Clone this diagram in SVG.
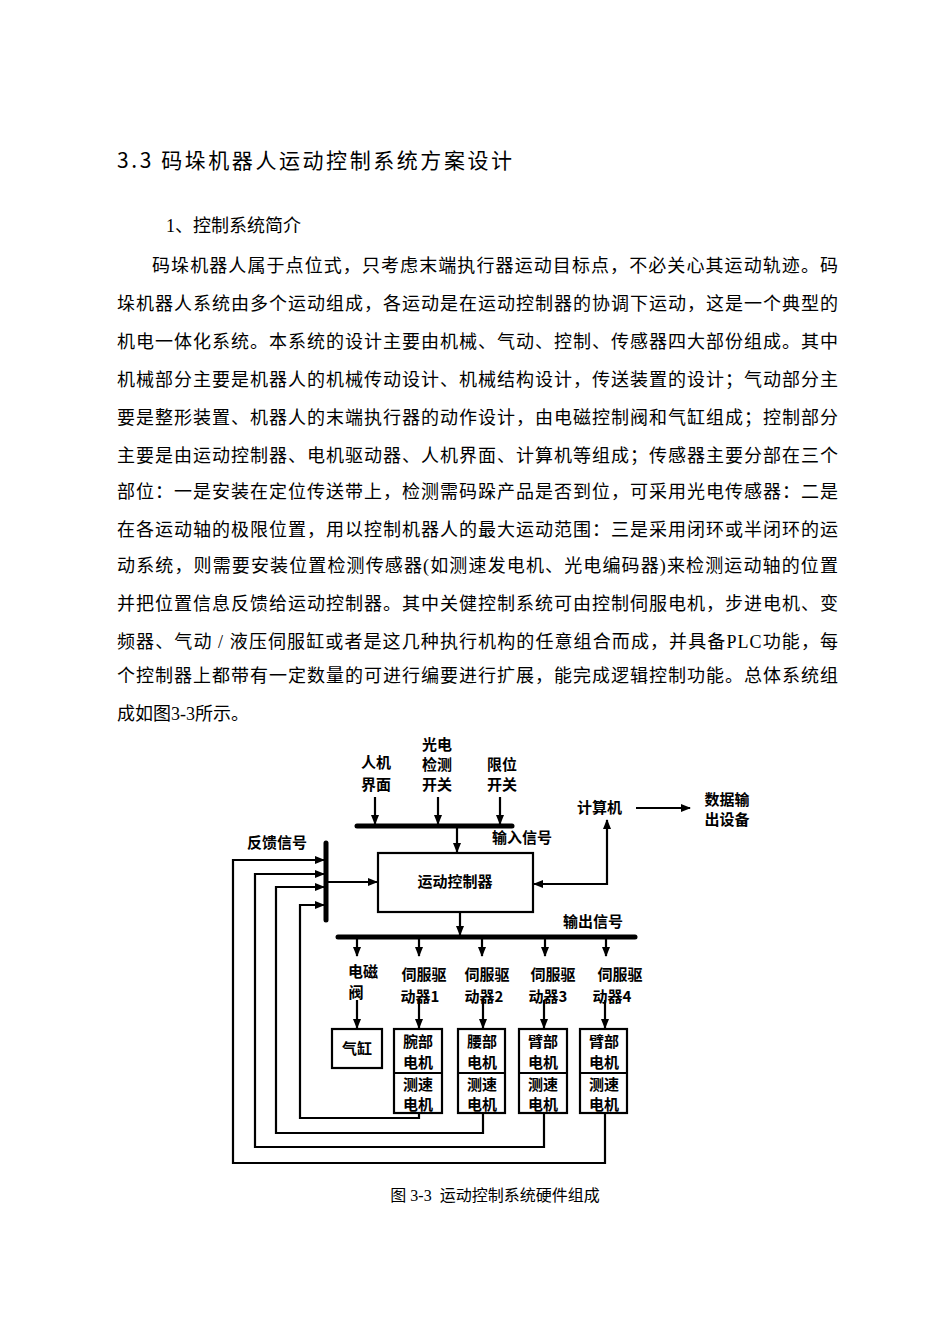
<svg xmlns="http://www.w3.org/2000/svg" width="950" height="1344" viewBox="0 0 950 1344">
<defs>
<marker id="a" viewBox="0 0 10 10" refX="9" refY="5" markerWidth="10" markerHeight="10" orient="auto" markerUnits="userSpaceOnUse"><path d="M0,1 L10,5 L0,9 z" fill="#000"/></marker>
</defs>
<style>
.b{font-family:"Liberation Serif","Noto Sans CJK SC",serif;font-size:18px;fill:#000}
.d{font-family:"Noto Sans CJK SC",sans-serif;font-size:15px;font-weight:bold;fill:#000}
.l{stroke:#000;stroke-width:2.2;fill:none}
.bus{stroke:#000;stroke-width:5;fill:none;stroke-linecap:round}
.box{fill:#fff;stroke:#000;stroke-width:2.2}
</style>
<rect width="950" height="1344" fill="#fff"/>
<text x="117" y="168" textLength="395" style="font-family:'Noto Sans CJK SC',sans-serif;font-size:21px">3.3 码垛机器人运动控制系统方案设计</text>
<g class="b">
<text x="166" y="232">1、控制系统简介</text>
<text x="152" y="272" textLength="686" lengthAdjust="spacing">码垛机器人属于点位式，只考虑末端执行器运动目标点，不必关心其运动轨迹。码</text>
<text x="117" y="310" textLength="721" lengthAdjust="spacing">垛机器人系统由多个运动组成，各运动是在运动控制器的协调下运动，这是一个典型的</text>
<text x="117" y="348" textLength="721" lengthAdjust="spacing">机电一体化系统。本系统的设计主要由机械、气动、控制、传感器四大部份组成。其中</text>
<text x="117" y="386" textLength="721" lengthAdjust="spacing">机械部分主要是机器人的机械传动设计、机械结构设计，传送装置的设计；气动部分主</text>
<text x="117" y="424" textLength="721" lengthAdjust="spacing">要是整形装置、机器人的末端执行器的动作设计，由电磁控制阀和气缸组成；控制部分</text>
<text x="117" y="462" textLength="721" lengthAdjust="spacing">主要是由运动控制器、电机驱动器、人机界面、计算机等组成；传感器主要分部在三个</text>
<text x="117" y="498" textLength="721" lengthAdjust="spacing">部位：一是安装在定位传送带上，检测需码跺产品是否到位，可采用光电传感器：二是</text>
<text x="117" y="536" textLength="721" lengthAdjust="spacing">在各运动轴的极限位置，用以控制机器人的最大运动范围：三是采用闭环或半闭环的运</text>
<text x="117" y="572" textLength="721" lengthAdjust="spacing">动系统，则需要安装位置检测传感器(如测速发电机、光电编码器)来检测运动轴的位置</text>
<text x="117" y="610" textLength="721" lengthAdjust="spacing">并把位置信息反馈给运动控制器。其中关健控制系统可由控制伺服电机，步进电机、变</text>
<text x="117" y="648" textLength="721" lengthAdjust="spacing">频器、气动 / 液压伺服缸或者是这几种执行机构的任意组合而成，并具备PLC功能，每</text>
<text x="117" y="682" textLength="721" lengthAdjust="spacing">个控制器上都带有一定数量的可进行编要进行扩展，能完成逻辑控制功能。总体系统组</text>
<text x="117" y="720">成如图3-3所示。</text>
<text x="495" y="1201" text-anchor="middle" style="font-size:16px" xml:space="preserve">图 3-3  运动控制系统硬件组成</text>
</g>
<g id="connectors">
<line class="bus" x1="357" y1="826" x2="512" y2="826"/>
<line class="l" x1="375" y1="797" x2="375" y2="824" marker-end="url(#a)"/>
<line class="l" x1="438" y1="797" x2="438" y2="824" marker-end="url(#a)"/>
<line class="l" x1="500" y1="797" x2="500" y2="824" marker-end="url(#a)"/>
<line class="l" x1="457" y1="826" x2="457" y2="852" marker-end="url(#a)"/>
<line class="bus" x1="326" y1="843" x2="326" y2="920"/>
<line class="l" x1="326" y1="882" x2="377" y2="882" marker-end="url(#a)"/>
<polyline class="l" points="419,1113 419,1118 300,1118 300,905 324,905" marker-end="url(#a)"/>
<polyline class="l" points="483,1113 483,1133 276,1133 276,887 324,887" marker-end="url(#a)"/>
<polyline class="l" points="544,1113 544,1147 255,1147 255,874 324,874" marker-end="url(#a)"/>
<polyline class="l" points="605,1113 605,1163 233,1163 233,860 324,860" marker-end="url(#a)"/>
<line class="l" x1="607" y1="885" x2="607" y2="820" marker-end="url(#a)"/>
<line class="l" x1="607" y1="884" x2="534" y2="884" marker-end="url(#a)"/>
<line class="l" x1="636" y1="808" x2="690" y2="808" marker-end="url(#a)"/>
<line class="l" x1="460" y1="912" x2="460" y2="935" marker-end="url(#a)"/>
<line class="bus" x1="338" y1="937" x2="635" y2="937"/>
<line class="l" x1="357" y1="937" x2="357" y2="956" marker-end="url(#a)"/>
<line class="l" x1="419" y1="937" x2="419" y2="956" marker-end="url(#a)"/>
<line class="l" x1="482" y1="937" x2="482" y2="956" marker-end="url(#a)"/>
<line class="l" x1="545" y1="937" x2="545" y2="956" marker-end="url(#a)"/>
<line class="l" x1="606" y1="937" x2="606" y2="956" marker-end="url(#a)"/>
<line class="l" x1="357" y1="1000" x2="357" y2="1028" marker-end="url(#a)"/>
<line class="l" x1="419" y1="1000" x2="419" y2="1028" marker-end="url(#a)"/>
<line class="l" x1="483" y1="1000" x2="483" y2="1028" marker-end="url(#a)"/>
<line class="l" x1="544" y1="1000" x2="544" y2="1028" marker-end="url(#a)"/>
<line class="l" x1="605" y1="1000" x2="605" y2="1028" marker-end="url(#a)"/>
</g>
<g id="hmi" class="d" text-anchor="middle"><text x="376" y="768">人机</text><text x="376" y="790">界面</text></g>
<g id="photo" class="d" text-anchor="middle"><text x="437" y="750">光电</text><text x="437" y="770">检测</text><text x="437" y="790">开关</text></g>
<g id="limit" class="d" text-anchor="middle"><text x="502" y="770">限位</text><text x="502" y="790">开关</text></g>
<g id="inlabel" class="d"><text x="492" y="843">输入信号</text></g>
<g id="fblabel" class="d"><text x="247" y="848">反馈信号</text></g>
<g id="controller"><rect class="box" x="378" y="853" width="155" height="59"/><text class="d" x="455" y="887" text-anchor="middle">运动控制器</text></g>
<g id="computer" class="d"><text x="577" y="813">计算机</text></g>
<g id="output" class="d" text-anchor="middle"><text x="727" y="805">数据输</text><text x="727" y="825">出设备</text></g>
<g id="outlabel" class="d"><text x="563" y="927">输出信号</text></g>
<g id="valve" class="d" text-anchor="middle"><text x="363" y="977">电磁</text><text x="356" y="998">阀</text></g>
<g id="drv1" class="d" text-anchor="middle"><text x="424" y="980">伺服驱</text><text x="420" y="1002">动器1</text></g>
<g id="drv2" class="d" text-anchor="middle"><text x="487" y="980">伺服驱</text><text x="484" y="1002">动器2</text></g>
<g id="drv3" class="d" text-anchor="middle"><text x="553" y="980">伺服驱</text><text x="548" y="1002">动器3</text></g>
<g id="drv4" class="d" text-anchor="middle"><text x="620" y="980">伺服驱</text><text x="612" y="1002">动器4</text></g>
<g id="cyl"><rect class="box" x="332" y="1029" width="50" height="39"/><text class="d" x="357" y="1054" text-anchor="middle">气缸</text></g>
<g id="m1"><rect class="box" x="394" y="1029" width="48" height="84"/><line class="l" x1="394" y1="1073" x2="442" y2="1073"/><g class="d" text-anchor="middle"><text x="418" y="1047">腕部</text><text x="418" y="1068">电机</text><text x="418" y="1090">测速</text><text x="418" y="1110">电机</text></g></g>
<g id="m2"><rect class="box" x="458" y="1029" width="47" height="84"/><line class="l" x1="458" y1="1073" x2="505" y2="1073"/><g class="d" text-anchor="middle"><text x="482" y="1047">腰部</text><text x="482" y="1068">电机</text><text x="482" y="1090">测速</text><text x="482" y="1110">电机</text></g></g>
<g id="m3"><rect class="box" x="519" y="1029" width="48" height="84"/><line class="l" x1="519" y1="1073" x2="567" y2="1073"/><g class="d" text-anchor="middle"><text x="543" y="1047">臂部</text><text x="543" y="1068">电机</text><text x="543" y="1090">测速</text><text x="543" y="1110">电机</text></g></g>
<g id="m4"><rect class="box" x="580" y="1029" width="47" height="84"/><line class="l" x1="580" y1="1073" x2="627" y2="1073"/><g class="d" text-anchor="middle"><text x="604" y="1047">臂部</text><text x="604" y="1068">电机</text><text x="604" y="1090">测速</text><text x="604" y="1110">电机</text></g></g>
</svg>
